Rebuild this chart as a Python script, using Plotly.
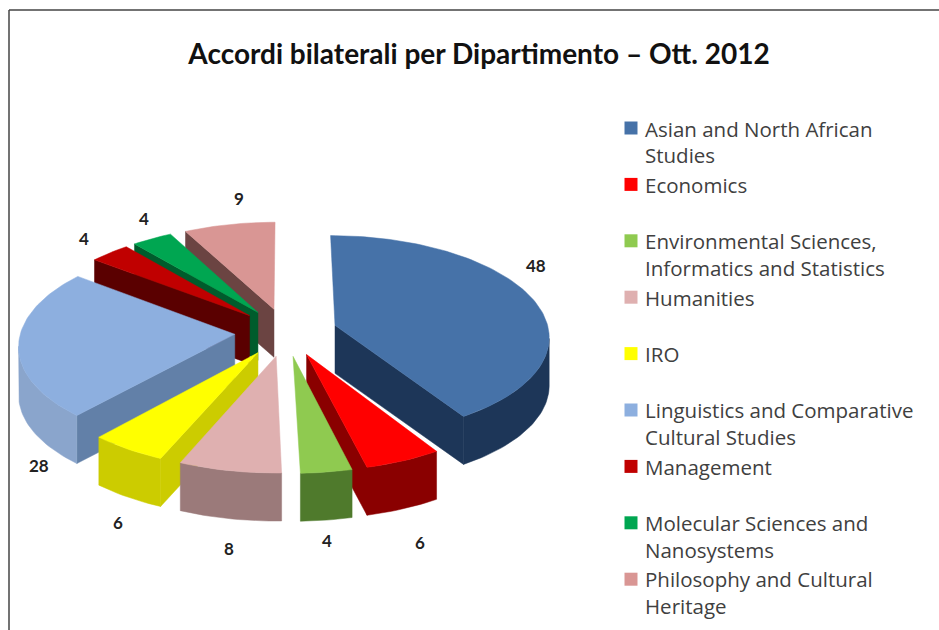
import math
import plotly.graph_objects as go

# ---- data ----
departments = [
    "Asian and North African<br>Studies",
    "Economics<br>&nbsp;",
    "Environmental Sciences,<br>Informatics and Statistics",
    "Humanities<br>&nbsp;",
    "IRO<br>&nbsp;",
    "Linguistics and Comparative<br>Cultural Studies",
    "Management<br>&nbsp;",
    "Molecular Sciences and<br>Nanosystems",
    "Philosophy and Cultural<br>Heritage",
]
agreements = [48, 6, 4, 8, 6, 28, 4, 4, 9]
title_text = "Accordi bilaterali per Dipartimento – Ott. 2012"

# ---- styles ----
top_colors = ["#4672a8", "#ff0000", "#8fca50", "#dfb0b0", "#ffff00", "#8dafdf", "#c00000", "#00a651", "#d99694"]
rim_colors = ["#1d3658", "#8a0000", "#4f7a2c", "#9b7a7a", "#cccc00", "#8aa5cc", "#5a0000", "#005c2c", "#6b4442"]
cut_colors = ["#1d3658", "#8a0000", "#4f7a2c", "#9b7a7a", "#cccc00", "#6280a8", "#5a0000", "#005c2c", "#6b4442"]
label_pos = [(536, 265), (420, 542), (327, 540), (229, 548), (118, 522), (39, 465), (84, 238), (144, 218), (239, 198)]

# ---- projection of the tilted, exploded pie ----
CX, CY = 286, 332      # pie centre in axis units
RX, RY = 214, 100      # radius across / along the tilted plane
PERSP = 0.10           # near parts draw larger
EXPLODE = 0.24         # slice offset as a fraction of the radius
DEPTH = 48             # height of the extrusion

# swatches of the legend sit on the first line of each entry
SWATCH_X, SWATCH_Y0, ROW_STEP = 631, 128, 56.4


def project(u, v):
    p = 1 / (1 + PERSP * v)
    return CX + RX * u * p, CY - RY * v * p


total = sum(agreements)
fig = go.Figure()

slices = []
start = 0.0
for i, value in enumerate(agreements):
    a0 = start / total * 2 * math.pi
    a1 = (start + value) / total * 2 * math.pi
    slices.append((i, a0, a1, (a0 + a1) / 2))
    start += value


def polygon(points, color, group, name):
    fig.add_trace(go.Scatter(
        x=[p[0] for p in points] + [points[0][0]],
        y=[p[1] for p in points] + [points[0][1]],
        mode="lines", fill="toself", fillcolor=color,
        line=dict(color=color, width=0.5),
        legendgroup=group, showlegend=False, name=name, hoverinfo="name",
    ))


for i, a0, a1, mid in sorted(slices, key=lambda s: -math.cos(s[3])):
    ou, ov = EXPLODE * math.sin(mid), EXPLODE * math.cos(mid)
    name = departments[i].replace("<br>&nbsp;", "").replace("<br>", " ") + f": {agreements[i]}"
    n = max(4, int((a1 - a0) * 40))
    arc = [project(ou + math.sin(a0 + (a1 - a0) * k / n), ov + math.cos(a0 + (a1 - a0) * k / n)) for k in range(n + 1)]
    apex = project(ou, ov)
    group = f"s{i}"

    # cut faces, drawn only when they clearly face the viewer
    for a, b in ((apex, arc[0]), (arc[-1], apex)):
        if b[0] - a[0] < -8:
            polygon([a, b, (b[0], b[1] + DEPTH), (a[0], a[1] + DEPTH)], cut_colors[i], group, name)

    # visible part of the outer wall
    run = []
    for k in range(n):
        if arc[k + 1][0] - arc[k][0] < 0:
            if not run:
                run.append(arc[k])
            run.append(arc[k + 1])
    if run:
        polygon(run + [(x, y + DEPTH) for x, y in reversed(run)], rim_colors[i], group, name)

    polygon([apex] + arc, top_colors[i], group, name)

# legend entries: native text; the swatch is drawn beside the first text line
for i, dep in enumerate(departments):
    fig.add_trace(go.Scatter(
        x=[None], y=[None], mode="markers", name=dep, legendgroup=f"s{i}", legendrank=i + 1,
        marker=dict(symbol="square", size=1, color="rgba(255,255,255,0)"),
    ))
    fig.add_trace(go.Scatter(
        x=[SWATCH_X], y=[SWATCH_Y0 + ROW_STEP * i], mode="markers", showlegend=False,
        legendgroup=f"s{i}", hoverinfo="skip",
        marker=dict(symbol="square", size=13, color=top_colors[i]),
    ))

for value, (x, y) in zip(agreements, label_pos):
    fig.add_annotation(x=x, y=y, text=f"<b>{value}</b>", showarrow=False,
                       font=dict(family="Lato", size=17, color="#222222"))

fig.update_layout(
    width=939, height=630,
    margin=dict(l=0, r=0, t=0, b=0),
    paper_bgcolor="white", plot_bgcolor="white",
    title=dict(text=f"<b>{title_text}</b>", x=479 / 939, xanchor="center", y=1 - 54 / 630, yanchor="middle",
               font=dict(family="Lato", size=28, color="#111111")),
    xaxis=dict(range=[0, 939], visible=False, fixedrange=True),
    yaxis=dict(range=[630, 0], visible=False, fixedrange=True),
    legend=dict(x=605 / 939, y=1 - 109 / 630, xanchor="left", yanchor="top", bgcolor="rgba(0,0,0,0)",
                font=dict(family="Open Sans", size=20.5, color="#404040"), traceorder="normal",
                maxheight=1, itemclick=False, itemdoubleclick=False),
    shapes=[
        dict(type="line", xref="x", yref="y", x0=9, x1=939, y0=10, y1=10, line=dict(color="#444444", width=1.5)),
        dict(type="line", xref="x", yref="y", x0=9, x1=9, y0=10, y1=630, line=dict(color="#444444", width=1.5)),
    ],
)

fig.write_html("out.html", config={"displayModeBar": False}, post_script="document.body.style.margin='0';")
